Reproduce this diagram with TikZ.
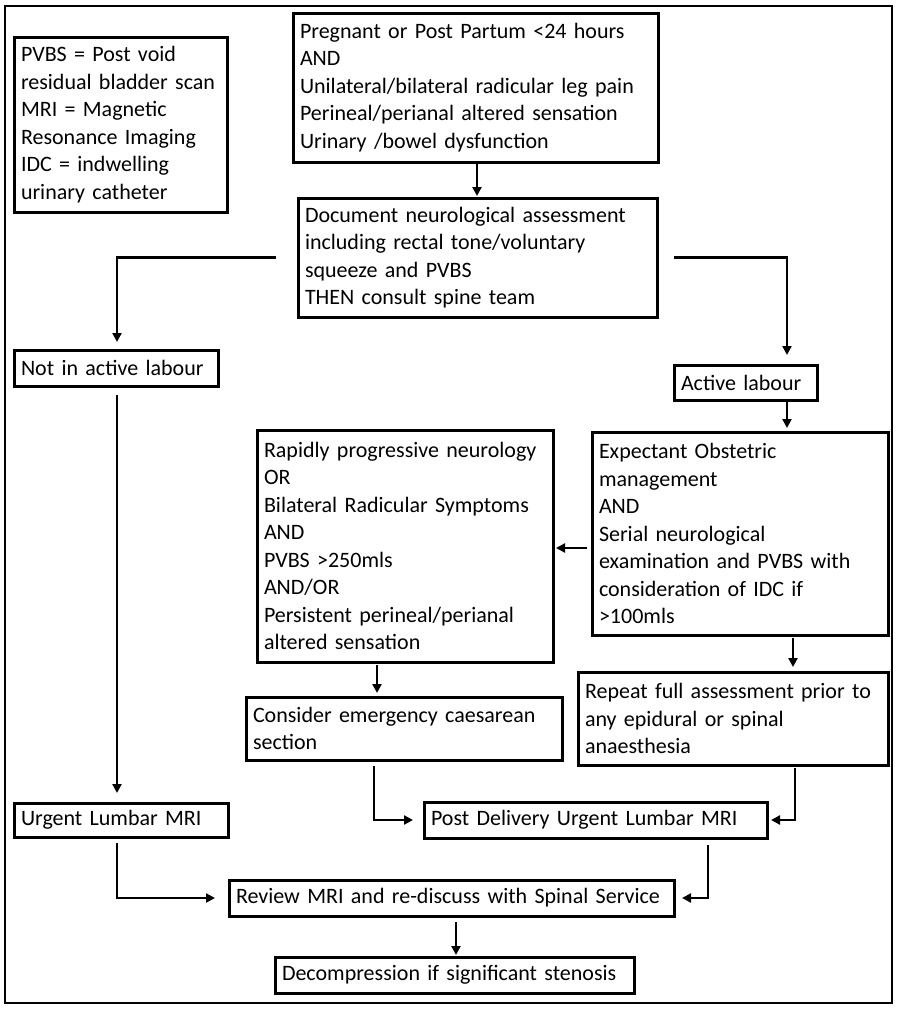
\documentclass[tikz,border=0pt]{standalone}
\usepackage{fontspec}
\setmainfont{Carlito}
\usetikzlibrary{arrows.meta}
\tikzset{
  box/.style={draw, line width=3pt, align=left, inner xsep=7pt, inner ysep=0pt, outer sep=0pt,
    font=\fontsize{22}{27.5}\selectfont},
  arr/.style={line width=2.8pt, -{Triangle[length=9pt,width=9pt]}}
}
\begin{document}
\begin{tikzpicture}[x=1pt,y=-1pt]
\useasboundingbox (0,0) rectangle (897,1010);
\draw[line width=2.2pt] (5,6) rectangle (892,1003);

\node[box, minimum width=213, text width=199, minimum height=175] (legend) at (120.5,124.5)
 {PVBS = Post void\\residual bladder scan\\MRI = Magnetic\\Resonance Imaging\\IDC = indwelling\\urinary catheter};
\node[box, minimum width=365, text width=351, minimum height=149] (top) at (475.5,87.5)
 {Pregnant or Post Partum <24 hours\\AND\\Unilateral/bilateral radicular leg pain\\Perineal/perianal altered sensation\\Urinary /bowel dysfunction};
\node[box, minimum width=359, text width=345, minimum height=119] (doc) at (477.5,257.5)
 {Document neurological assessment\\including rectal tone/voluntary\\squeeze and PVBS\\THEN consult spine team};
\node[box, minimum width=204, text width=190, minimum height=36] (notactive) at (116,368)
 {Not in active labour};
\node[box, minimum width=143, text width=129, minimum height=35] (active) at (745.5,382.5)
 {Active labour};
\node[box, minimum width=296, text width=282, minimum height=203] (expect) at (740,533.5)
 {Expectant Obstetric\\management\\AND\\Serial neurological\\examination and PVBS with\\consideration of IDC if\\>100mls};
\node[box, minimum width=296, text width=282, minimum height=232] (rapid) at (405,546)
 {Rapidly progressive neurology\\OR\\Bilateral Radicular Symptoms\\AND\\PVBS >250mls\\AND/OR\\Persistent perineal/perianal\\altered sensation};
\node[box, minimum width=316, text width=302, minimum height=63] (consider) at (404,728.5)
 {Consider emergency caesarean\\section};
\node[box, minimum width=310, text width=296, minimum height=93] (repeat) at (733,718.5)
 {Repeat full assessment prior to\\any epidural or spinal\\anaesthesia};
\node[box, minimum width=214, text width=200, minimum height=34] (urgent) at (121,820)
 {Urgent Lumbar MRI};
\node[box, minimum width=343, text width=329, minimum height=36] (post) at (595.5,820)
 {Post Delivery Urgent Lumbar MRI};
\node[box, minimum width=445, text width=431, minimum height=36] (review) at (451.5,898)
 {Review MRI and re-discuss with Spinal Service};
\node[box, minimum width=359, text width=345, minimum height=36] (decomp) at (454.5,975)
 {Decompression if significant stenosis};

\coordinate (xL) at (117,0);
\coordinate (xA) at (787,0);
\coordinate (yR) at (0,548);
\coordinate (xB) at (793,0);
\coordinate (xC) at (377,0);
\coordinate (xD) at (374,0);
\coordinate (xE) at (795,0);
\coordinate (xF) at (708,0);
\coordinate (xG) at (456,0);
\coordinate (xT) at (477,0);

\draw[arr, shorten >=2pt] (top.south -| xT) -- (doc.north -| xT);
\draw[arr, shorten <=22pt, shorten >=8pt] (doc.west) -| (notactive.north -| xL);
\draw[arr, shorten <=17pt, shorten >=10pt] (doc.east) -| (active.north -| xA);
\draw[arr, shorten >=4pt] (active.south -| xA) -- (expect.north -| xA);
\draw[arr, shorten <=5pt, shorten >=3pt] (expect.west |- yR) -- (rapid.east |- yR);
\draw[arr, shorten <=3pt, shorten >=5pt] (expect.south -| xB) -- (repeat.north -| xB);
\draw[arr, shorten <=3pt, shorten >=4pt] (rapid.south -| xC) -- (consider.north -| xC);
\draw[arr, shorten <=6pt, shorten >=11pt] (consider.south -| xD) |- (post.west);
\draw[arr, shorten <=3pt, shorten >=4pt] (repeat.south -| xE) |- (post.east);
\draw[arr, shorten <=9pt, shorten >=10pt] (notactive.south -| xL) -- (urgent.north -| xL);
\draw[arr, shorten <=6pt, shorten >=14pt] (urgent.south -| xL) |- (review.west);
\draw[arr, shorten <=7pt, shorten >=8pt] (post.south -| xF) |- (review.east);
\draw[arr, shorten <=6pt, shorten >=2pt] (review.south -| xG) -- (decomp.north -| xG);
\end{tikzpicture}
\end{document}
